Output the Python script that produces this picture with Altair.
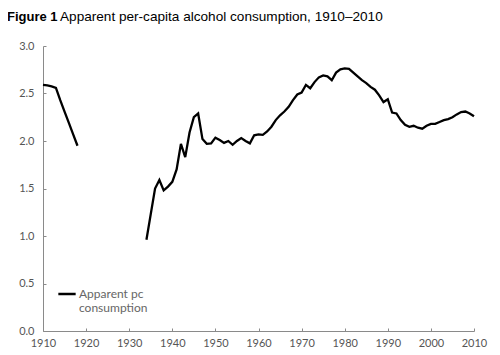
import altair as alt
import pandas as pd

years_a = [1910, 1911, 1912, 1913, 1914, 1915, 1916, 1917, 1918]
vals_a = [2.59, 2.585, 2.575, 2.56, 2.43, 2.31, 2.19, 2.07, 1.95]

years_b = list(range(1934, 2011))
vals_b = [0.96, 1.23, 1.50, 1.59, 1.48, 1.52, 1.57, 1.70, 1.97, 1.83,
          2.09, 2.25, 2.29, 2.02, 1.97, 1.975, 2.035, 2.01, 1.98, 2.00,
          1.96, 2.00, 2.03, 2.00, 1.975, 2.06, 2.07, 2.065, 2.10, 2.15,
          2.22, 2.27, 2.31, 2.36, 2.43, 2.49, 2.51, 2.59, 2.555, 2.62,
          2.67, 2.69, 2.68, 2.64, 2.72, 2.755, 2.765, 2.76, 2.72, 2.68,
          2.64, 2.61, 2.57, 2.54, 2.48, 2.41, 2.44, 2.30, 2.29, 2.22,
          2.17, 2.15, 2.16, 2.14, 2.13, 2.16, 2.18, 2.18, 2.20, 2.22,
          2.23, 2.25, 2.28, 2.305, 2.31, 2.29, 2.26]

series_name = "Apparent pc consumption"
x_ticks = list(range(1910, 2011, 10))
y_ticks = [0.0, 0.5, 1.0, 1.5, 2.0, 2.5, 3.0]

df = pd.DataFrame({
    "year": years_a + years_b,
    "value": vals_a + vals_b,
    "seg": ["a"] * len(years_a) + ["b"] * len(years_b),
    "series": series_name,
})

W, H = 431, 285
AXIS_FONT = "Lato"
GRAY_AX = "#8a8a8a"
GRAY_LB = "#555555"

x_scale = alt.Scale(domain=[1910, 2010], nice=False, zero=False)
y_scale = alt.Scale(domain=[0, 3], nice=False)

# main layer: labels and domain lines, no ticks
line = alt.Chart(df).mark_line(strokeWidth=2.3, strokeJoin="miter").encode(
    x=alt.X("year:Q", scale=x_scale,
            axis=alt.Axis(orient="bottom", values=x_ticks, format="d", title=None,
                          grid=False, ticks=False, domainColor=GRAY_AX,
                          labelFont=AXIS_FONT, labelFontSize=11, labelColor=GRAY_LB,
                          labelPadding=6, labelFlush=False)),
    y=alt.Y("value:Q", scale=y_scale,
            axis=alt.Axis(orient="left", values=y_ticks, format=".1f", title=None,
                          grid=False, ticks=False, domainColor=GRAY_AX,
                          labelFont=AXIS_FONT, labelFontSize=11, labelColor=GRAY_LB,
                          labelPadding=9, labelFlush=False)),
    detail="seg:N",
    color=alt.Color("series:N", scale=alt.Scale(range=["#000000"]),
                    legend=alt.Legend(orient="none", legendX=14, legendY=238,
                                      title=None, symbolType="stroke",
                                      symbolStrokeWidth=2.5, symbolSize=300,
                                      labelFont=AXIS_FONT, labelFontSize=12,
                                      labelColor="#666666", labelOffset=2,
                                      labelExpr="['Apparent pc', 'consumption']",
                                      labelBaseline="middle")),
)

# invisible layer carrying inward-pointing tick marks (axes placed on opposite side)
ticks = alt.Chart(df).mark_line(opacity=0).encode(
    x=alt.X("year:Q", scale=x_scale,
            axis=alt.Axis(orient="top", offset=-H, values=x_ticks, title=None,
                          grid=False, labels=False, domain=False, tickSize=3,
                          tickColor=GRAY_AX)),
    y=alt.Y("value:Q", scale=y_scale,
            axis=alt.Axis(orient="right", offset=-W, values=y_ticks, title=None,
                          grid=False, labels=False, domain=False, tickSize=3,
                          tickColor=GRAY_AX)),
    detail="seg:N",
)

fig = alt.Chart(pd.DataFrame({"t": ["Figure 1"]})).mark_text(
    align="left", baseline="alphabetic", font="Liberation Sans", fontSize=13,
    fontWeight="bold", color="#000000"
).encode(text="t:N", x=alt.value(-36), y=alt.value(-25))

ttl = alt.Chart(pd.DataFrame({"t": ["Apparent per-capita alcohol consumption, 1910\u20132010"]})).mark_text(
    align="left", baseline="alphabetic", font="Liberation Sans", fontSize=13.6,
    color="#000000"
).encode(text="t:N", x=alt.value(17), y=alt.value(-25))

chart = alt.layer(line, ticks, fig, ttl).properties(
    width=W, height=H,
    autosize=alt.AutoSizeParams(type="none"),
    padding={"left": 35, "top": 38, "right": 18, "bottom": 20},
).configure_view(stroke=None)

chart.save("out.html", embed_options={"renderer": "svg", "actions": False})
